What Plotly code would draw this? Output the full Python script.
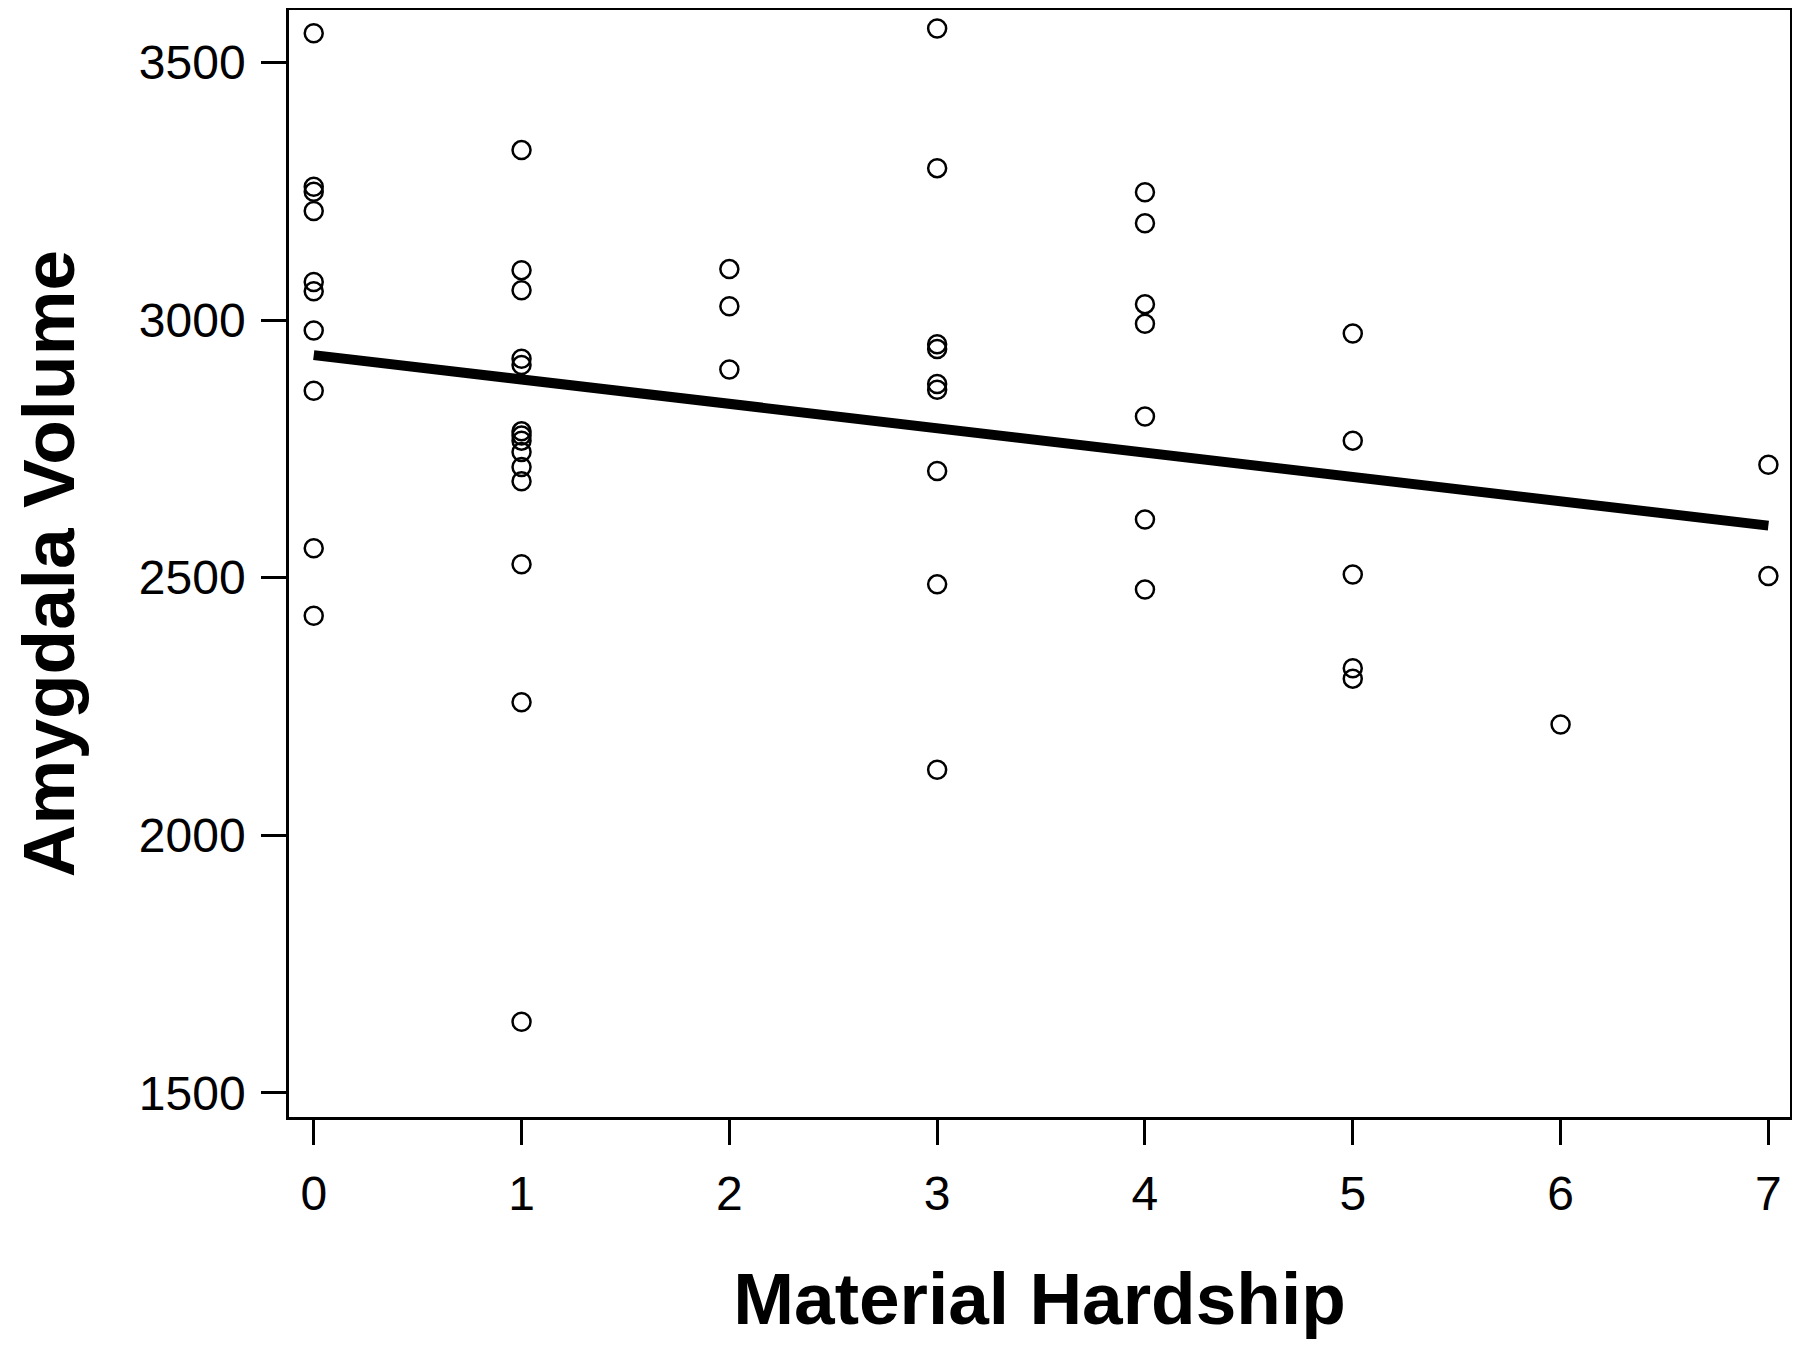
import plotly.graph_objects as go

# Material Hardship (x) and Amygdala Volume (y)
hardship = (
    [0] * 10 + [1] * 14 + [2] * 3 + [3] * 9 + [4] * 7 + [5] * 5 + [6] * 1 + [7] * 2
)
volume = [
    # hardship 0
    3557, 3259, 3249, 3212, 3074, 3056, 2980, 2863, 2557, 2426,
    # hardship 1
    3330, 3097, 3058, 2925, 2913, 2784, 2776, 2766, 2744, 2715, 2687, 2526, 2258, 1638,
    # hardship 2
    3099, 3027, 2904,
    # hardship 3
    3566, 3295, 2953, 2944, 2876, 2865, 2707, 2487, 2127,
    # hardship 4
    3248, 3188, 3031, 2993, 2813, 2613, 2477,
    # hardship 5
    2974, 2766, 2506, 2324, 2304,
    # hardship 6
    2215,
    # hardship 7
    2719, 2503,
]

# fitted regression line end points
fit_x = [0, 7]
fit_y = [2932, 2601]

x_ticks = [0, 1, 2, 3, 4, 5, 6, 7]
y_ticks = [1500, 2000, 2500, 3000, 3500]

FONT = "Liberation Sans, Arial, Helvetica, sans-serif"

fig = go.Figure()
fig.add_trace(go.Scatter(
    x=fit_x, y=fit_y, mode="lines",
    line=dict(color="black", width=10),
    showlegend=False, hoverinfo="skip",
))
fig.add_trace(go.Scatter(
    x=hardship, y=volume, mode="markers",
    marker=dict(symbol="circle-open", size=18, color="black",
                line=dict(color="black", width=2.5)),
    showlegend=False,
))

fig.update_layout(
    width=1784, height=1333,
    margin=dict(l=281, r=2, t=2, b=224, autoexpand=False),
    paper_bgcolor="white", plot_bgcolor="white",
    font=dict(family=FONT, color="black"),
    showlegend=False,
)
fig.update_xaxes(
    range=[-0.119, 7.104],
    tickmode="array", tickvals=x_ticks, ticktext=[str(v) for v in x_ticks],
    ticks="outside", ticklen=25, tickwidth=3, tickcolor="black",
    ticklabelstandoff=8,
    tickfont=dict(size=48, family=FONT, color="black"),
    showline=True, linecolor="black", linewidth=2.5, mirror=True,
    showgrid=False, zeroline=False, automargin=False,
    title=dict(text="<b>Material Hardship</b>",
               font=dict(size=73, family=FONT, color="black"), standoff=54),
)
fig.update_yaxes(
    range=[1453, 3602],
    tickmode="array", tickvals=y_ticks, ticktext=[str(v) for v in y_ticks],
    ticks="outside", ticklen=25, tickwidth=3, tickcolor="black",
    ticklabelstandoff=6,
    tickfont=dict(size=48, family=FONT, color="black"),
    showline=True, linecolor="black", linewidth=2.5, mirror=True,
    showgrid=False, zeroline=False, automargin=False,
    title=dict(text="<b>Amygdala Volume</b>",
               font=dict(size=73, family=FONT, color="black"), standoff=86),
)

fig.write_html("out.html")
